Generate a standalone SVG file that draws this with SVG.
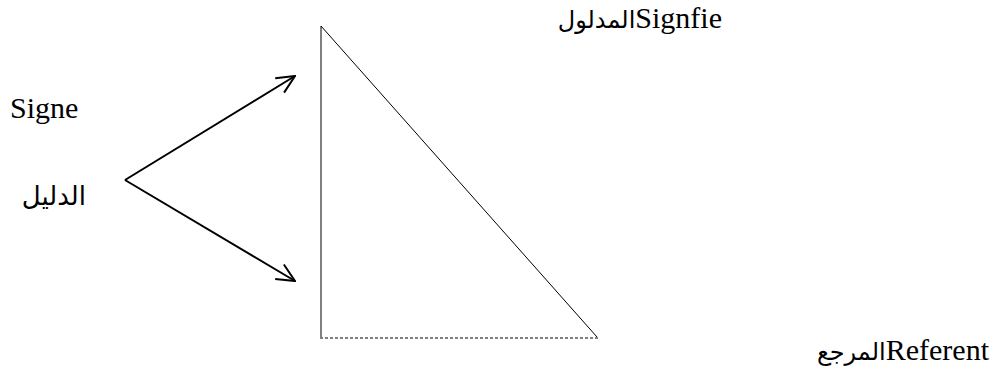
<svg xmlns="http://www.w3.org/2000/svg" width="998" height="387" viewBox="0 0 998 387">
<defs>
<marker id="ah" viewBox="0 0 20 20" refX="19" refY="10" markerWidth="20" markerHeight="20" markerUnits="userSpaceOnUse" orient="auto">
<path d="M1,1.5 L19,10 L1,18.5" fill="none" stroke="#000" stroke-width="2"/>
</marker>
</defs>
<rect width="998" height="387" fill="#fff"/>
<g id="connectors" stroke="#000" stroke-width="2" fill="none">
<line x1="125" y1="180" x2="295" y2="76" marker-end="url(#ah)"/>
<line x1="125" y1="180" x2="295" y2="281" marker-end="url(#ah)"/>
</g>
<g id="triangle" stroke="#000" stroke-width="1" fill="none">
<line x1="321" y1="26" x2="321" y2="337"/>
<line x1="321" y1="26" x2="597" y2="337"/>
<line x1="320" y1="338" x2="598" y2="338" stroke-dasharray="3,2"/>
</g>
<g id="signified" font-family="Liberation Serif, DejaVu Sans, serif" font-size="30" fill="#000">
<text x="722" y="28" direction="rtl" text-anchor="start">Signfie<tspan font-family="DejaVu Sans, sans-serif" font-size="24">المدلول</tspan></text>
</g>
<g id="sign" font-family="Liberation Serif, DejaVu Sans, serif" font-size="30" fill="#000">
<text x="10" y="118">Signe</text>
<text x="86" y="205" direction="rtl" text-anchor="start" font-family="DejaVu Sans, sans-serif" font-size="26">الدليل</text>
</g>
<g id="referent" font-family="Liberation Serif, DejaVu Sans, serif" font-size="30" fill="#000">
<text x="989" y="360" direction="rtl" text-anchor="start">Referent<tspan font-family="DejaVu Sans, sans-serif" font-size="24">المرجع</tspan></text>
</g>
</svg>
